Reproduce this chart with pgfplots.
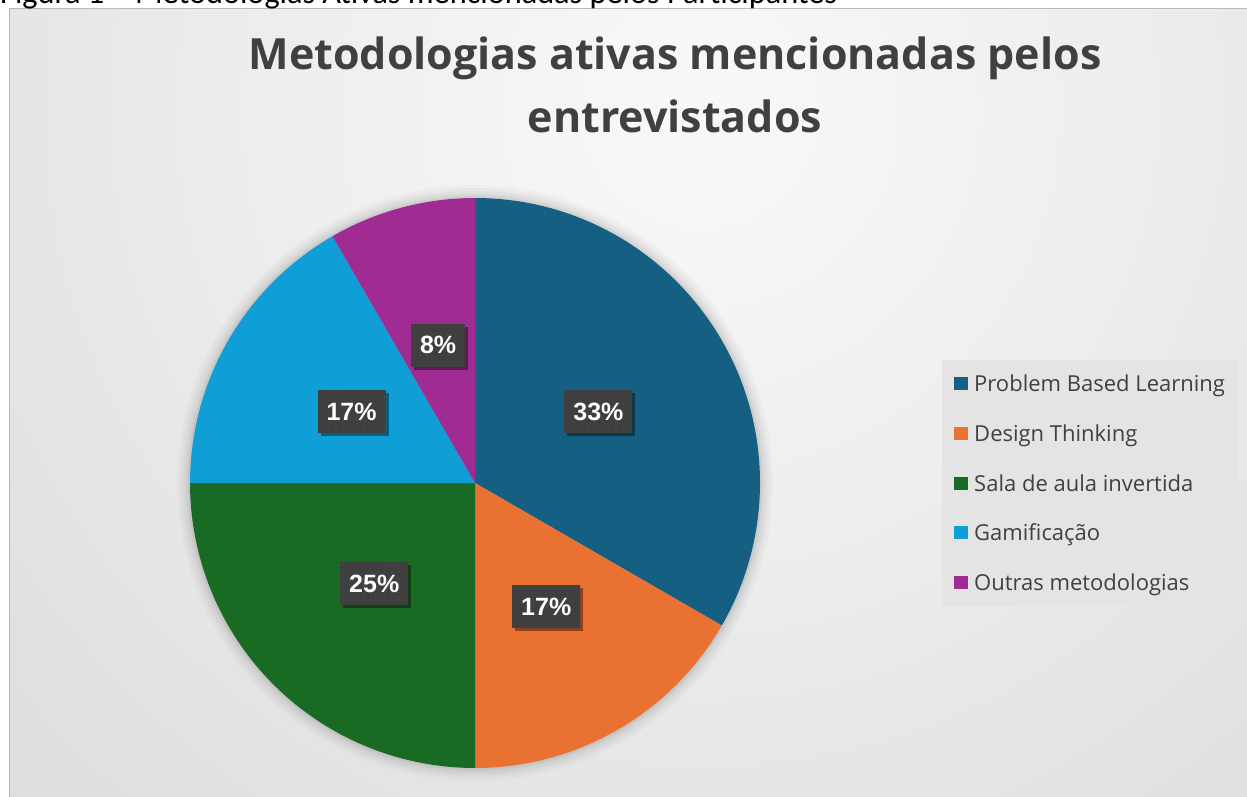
\documentclass[border=0pt]{standalone}
\usepackage{pgfplots}
\pgfplotsset{compat=1.18}
\usepackage{pgfplotstable}
\usepackage{fontspec}
\setmainfont{Open Sans}
\newfontfamily\capfont{Carlito}
\newfontfamily\lblfont{Liberation Sans}
\usetikzlibrary{shadows,patterns.meta}

\definecolor{cPBL}{HTML}{156082}
\definecolor{cDT}{HTML}{E97132}
\definecolor{cSala}{HTML}{196B24}
\definecolor{cGam}{HTML}{0F9ED5}
\definecolor{cOut}{HTML}{A02B93}
\definecolor{txt}{HTML}{404040}
\definecolor{bgout}{HTML}{C4C4C4}
\definecolor{legbg}{HTML}{E4E4E4}
\definecolor{lblbg}{HTML}{3F3F3F}
\definecolor{lbldot}{HTML}{5C5C5C}

\pgfdeclareradialshading{chartbg}{\pgfpoint{0bp}{0bp}}{%
  rgb(0bp)=(0.975,0.975,0.975); rgb(10bp)=(0.935,0.935,0.935); rgb(20bp)=(0.886,0.886,0.886);
  rgb(30bp)=(0.845,0.845,0.845); rgb(40bp)=(0.80,0.80,0.80); rgb(50bp)=(0.765,0.765,0.765)}

% share of each methodology (percent)
\pgfplotstableread{
idx value
0 33.333
1 16.667
2 25.000
3 16.667
4 8.333
}\piedata

\newcommand\pieS[1]{\csname pieS#1\endcsname}
\newcommand\pieE[1]{\csname pieE#1\endcsname}
\newcommand\pieM[1]{\csname pieM#1\endcsname}
\newcommand\pieP[1]{\csname pieP#1\endcsname}

\begin{document}
\begin{tikzpicture}[x=1pt,y=1pt,
  lbl/.style={fill=lblbg, text=white, font=\lblfont\bfseries\fontsize{25}{30}\selectfont,
    inner xsep=9pt, inner ysep=0pt, minimum height=43pt,
    drop shadow={shadow xshift=3pt, shadow yshift=-3pt, opacity=0.4, fill=black},
    postaction={pattern={Dots[radius=0.7pt, distance=7pt]}, pattern color=lbldot}}]
\path[use as bounding box] (0pt,0pt) rectangle (1247pt,796pt);
\clip (0pt,0pt) rectangle (1247pt,796pt);
\fill[white] (0pt,0pt) rectangle (1247pt,796pt);
% chart area
\fill[bgout] (9pt,0pt) rectangle (1247pt,787pt);
\begin{scope}
\clip (9pt,0pt) rectangle (1247pt,787pt);
\shade[shading=chartbg] (-300pt,-314pt) rectangle (1700pt,1686pt);
\end{scope}
\draw[gray!55, line width=1pt] (9pt,-2pt) -- (9pt,787pt) -- (1249pt,787pt);
% caption (cut at top)
\node[anchor=base west, inner sep=0pt, font=\capfont\fontsize{32.3}{36}\selectfont] at (0pt,792.5pt)
  {Figura 1 – Metodologias Ativas mencionadas pelos Participantes};
% title
\node[anchor=base, inner sep=0pt, text=txt, font=\bfseries\fontsize{43}{50}\selectfont] at (675pt,726pt)
  {Metodologias ativas mencionadas pelos};
\node[anchor=base, inner sep=0pt, text=txt, font=\bfseries\fontsize{43}{50}\selectfont] at (675pt,663pt)
  {entrevistados};

% compute slice angles from the data
\xdef\pieacc{0}
\foreach \i in {0,...,4}{%
  \pgfplotstablegetelem{\i}{value}\of\piedata
  \pgfmathsetmacro\pieV{\pgfplotsretval}%
  \pgfmathsetmacro\pieSt{90-3.6*\pieacc}%
  \pgfmathsetmacro\pieEn{90-3.6*(\pieacc+\pieV)}%
  \pgfmathsetmacro\pieMi{(\pieSt+\pieEn)/2}%
  \pgfmathtruncatemacro\piePc{round(\pieV)}%
  \pgfmathsetmacro\pieNx{\pieacc+\pieV}%
  \xdef\pieacc{\pieNx}%
  \expandafter\xdef\csname pieS\i\endcsname{\pieSt}%
  \expandafter\xdef\csname pieE\i\endcsname{\pieEn}%
  \expandafter\xdef\csname pieM\i\endcsname{\pieMi}%
  \expandafter\xdef\csname pieP\i\endcsname{\piePc}%
}

\begin{axis}[
  at={(190pt,28pt)}, anchor=south west,
  width=570pt, height=570pt, scale only axis,
  xmin=-1, xmax=1, ymin=-1, ymax=1,
  hide axis, clip=false,
  legend cell align=left,
  legend image code/.code={\fill[#1] (0pt,-6.5pt) rectangle (14pt,6.5pt);},
  legend style={at={(1.3193,0.7158)}, anchor=north west,
    fill=legbg, draw=none, text=txt,
    font=\fontsize{22}{26}\selectfont,
    inner xsep=12pt, inner ysep=12.5pt,
    row sep=27.7pt, column sep=5pt,
    nodes={inner sep=1pt, text height=18pt, text depth=2pt}},
]
% soft shadow round the pie
\fill[black, opacity=0.02] (axis cs:0,0) circle[radius=298pt];
\fill[black, opacity=0.025] (axis cs:0,0) circle[radius=295pt];
\fill[black, opacity=0.03] (axis cs:0,0) circle[radius=292pt];
\fill[black, opacity=0.035] (axis cs:0,0) circle[radius=289pt];
\fill[black, opacity=0.04] (axis cs:0,0) circle[radius=287pt];
\fill[cPBL]  (axis cs:0,0) -- (axis cs:{cos(\pieS{0})},{sin(\pieS{0})}) arc[start angle=\pieS{0}, end angle=\pieE{0}, radius=285pt] -- cycle;
\fill[cDT]   (axis cs:0,0) -- (axis cs:{cos(\pieS{1})},{sin(\pieS{1})}) arc[start angle=\pieS{1}, end angle=\pieE{1}, radius=285pt] -- cycle;
\fill[cSala] (axis cs:0,0) -- (axis cs:{cos(\pieS{2})},{sin(\pieS{2})}) arc[start angle=\pieS{2}, end angle=\pieE{2}, radius=285pt] -- cycle;
\fill[cGam]  (axis cs:0,0) -- (axis cs:{cos(\pieS{3})},{sin(\pieS{3})}) arc[start angle=\pieS{3}, end angle=\pieE{3}, radius=285pt] -- cycle;
\fill[cOut]  (axis cs:0,0) -- (axis cs:{cos(\pieS{4})},{sin(\pieS{4})}) arc[start angle=\pieS{4}, end angle=\pieE{4}, radius=285pt] -- cycle;

\node[lbl] at (axis cs:{0.5*cos(\pieM{0})},{0.5*sin(\pieM{0})}) {\pieP{0}\%};
\node[lbl] at (axis cs:{0.5*cos(\pieM{1})},{0.5*sin(\pieM{1})}) {\pieP{1}\%};
\node[lbl] at (axis cs:{0.5*cos(\pieM{2})},{0.5*sin(\pieM{2})}) {\pieP{2}\%};
\node[lbl] at (axis cs:{0.5*cos(\pieM{3})},{0.5*sin(\pieM{3})}) {\pieP{3}\%};
\node[lbl] at (axis cs:{0.5*cos(\pieM{4})},{0.5*sin(\pieM{4})}) {\pieP{4}\%};

\addlegendimage{fill=cPBL, draw=none}
\addlegendentry{Problem Based Learning}
\addlegendimage{fill=cDT, draw=none}
\addlegendentry{Design Thinking}
\addlegendimage{fill=cSala, draw=none}
\addlegendentry{Sala de aula invertida}
\addlegendimage{fill=cGam, draw=none}
\addlegendentry{Gamificação}
\addlegendimage{fill=cOut, draw=none}
\addlegendentry{Outras metodologias}
\end{axis}
\end{tikzpicture}
\end{document}
